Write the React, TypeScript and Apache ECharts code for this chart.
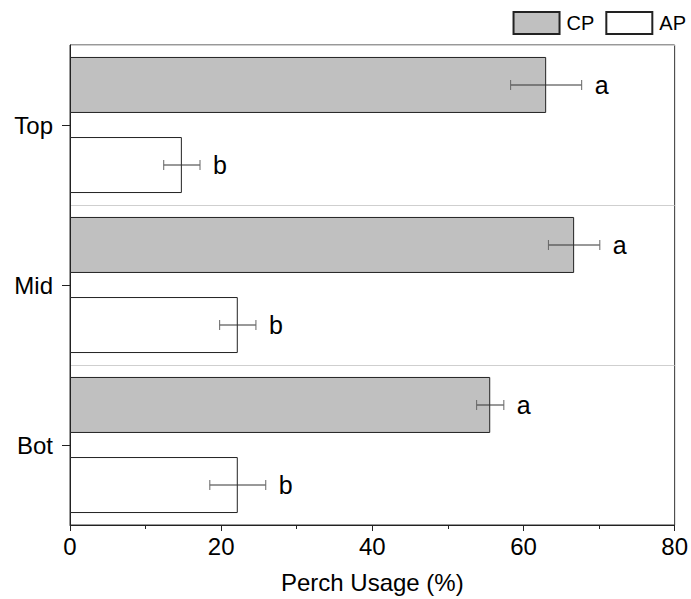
import React, { useEffect, useRef } from "react";
import * as echarts from "echarts";

// Perch usage by vertical position, CP vs AP treatment
const categories = ["Top", "Mid", "Bot"];
const cpMeans = [63.0, 66.7, 55.6];
const cpErr = [4.7, 3.4, 1.8];
const apMeans = [14.8, 22.2, 22.2];
const apErr = [2.4, 2.4, 3.7];
const cpLetters = ["a", "a", "a"];
const apLetters = ["b", "b", "b"];
const xTicks = [0, 20, 40, 60, 80];

const FONT = "'Liberation Sans', Arial, Helvetica, sans-serif";
const BAR_W = 56;
const BAR_GAP = 24;

function errorSeries(name: string, means: number[], errs: number[], letters: string[], side: number) {
  return {
    type: "custom",
    name: name + "-err",
    z: 10,
    silent: true,
    encode: { x: 0, y: 1 },
    data: means.map((m, i) => [m, i, errs[i]]),
    renderItem: (params: any, api: any) => {
      const mean = api.value(0);
      const cat = api.value(1);
      const err = api.value(2);
      const offset = side * (BAR_W + BAR_GAP) / 2;
      const lo = api.coord([mean - err, cat]);
      const hi = api.coord([mean + err, cat]);
      const y = lo[1] + offset;
      const cap = 5;
      const stroke = { stroke: "#333", lineWidth: 1 };
      return {
        type: "group",
        children: [
          { type: "line", shape: { x1: lo[0], y1: y, x2: hi[0], y2: y }, style: stroke },
          { type: "line", shape: { x1: lo[0], y1: y - cap, x2: lo[0], y2: y + cap }, style: { stroke: "#666", lineWidth: 1 } },
          { type: "line", shape: { x1: hi[0], y1: y - cap, x2: hi[0], y2: y + cap }, style: { stroke: "#666", lineWidth: 1 } },
          {
            type: "text",
            x: hi[0] + 13,
            y: y,
            style: {
              text: letters[params.dataIndex],
              fontSize: 25,
              fontFamily: FONT,
              fill: "#000",
              verticalAlign: "middle",
              align: "left",
            },
          },
        ],
      };
    },
  };
}

export default function App() {
  const ref = useRef<HTMLDivElement>(null);

  useEffect(() => {
    if (!ref.current) return;
    const chart = echarts.init(ref.current, undefined, { renderer: "svg" });
    chart.setOption({
      animation: false,
      backgroundColor: "#fff",
      textStyle: { fontFamily: FONT, color: "#000" },
      legend: {
        right: 5,
        top: 11,
        padding: 0,
        icon: "rect",
        itemWidth: 46,
        itemHeight: 22,
        itemGap: 11,
        textStyle: { fontSize: 20, fontFamily: FONT, color: "#000", padding: [0, 0, 0, 2] },
        data: ["CP", "AP"],
      },
      grid: {
        left: 70,
        right: 14,
        top: 45,
        bottom: 71,
        show: true,
        borderColor: "#333",
        borderWidth: 1,
        backgroundColor: "transparent",
      },
      xAxis: {
        type: "value",
        min: xTicks[0],
        max: xTicks[xTicks.length - 1],
        interval: 20,
        name: "Perch Usage (%)",
        nameLocation: "middle",
        nameGap: 45,
        nameTextStyle: { fontSize: 24, fontFamily: FONT, color: "#000" },
        axisLine: { show: true, lineStyle: { color: "#222", width: 1 } },
        axisTick: { show: true, inside: false, length: 6, lineStyle: { color: "#222" } },
        minorTick: { show: true, splitNumber: 2, length: 4, lineStyle: { color: "#222" } },
        axisLabel: { fontSize: 24, fontFamily: FONT, color: "#000", margin: 9 },
        splitLine: { show: false },
      },
      yAxis: {
        type: "category",
        inverse: true,
        data: categories,
        axisLine: { show: true, lineStyle: { color: "#222", width: 1 } },
        axisTick: { show: true, alignWithLabel: true, length: 8, lineStyle: { color: "#222" } },
        axisLabel: { fontSize: 24, fontFamily: FONT, color: "#000", margin: 17 },
        splitLine: { show: true, lineStyle: { color: "#cfcfcf", width: 1 } },
      },
      series: [
        {
          type: "bar",
          name: "CP",
          data: cpMeans,
          barWidth: BAR_W,
          barGap: `${Math.round((BAR_GAP / BAR_W) * 100)}%`,
          itemStyle: { color: "#c0c0c0", borderColor: "#222", borderWidth: 1 },
        },
        {
          type: "bar",
          name: "AP",
          data: apMeans,
          barWidth: BAR_W,
          itemStyle: { color: "#ffffff", borderColor: "#222", borderWidth: 1 },
        },
        errorSeries("CP", cpMeans, cpErr, cpLetters, -1),
        errorSeries("AP", apMeans, apErr, apLetters, 1),
      ],
    });
    return () => chart.dispose();
  }, []);

  return (
    <div
      ref={ref}
      style={{ position: "absolute", left: 0, top: 0, width: 691, height: 599 }}
    />
  );
}
